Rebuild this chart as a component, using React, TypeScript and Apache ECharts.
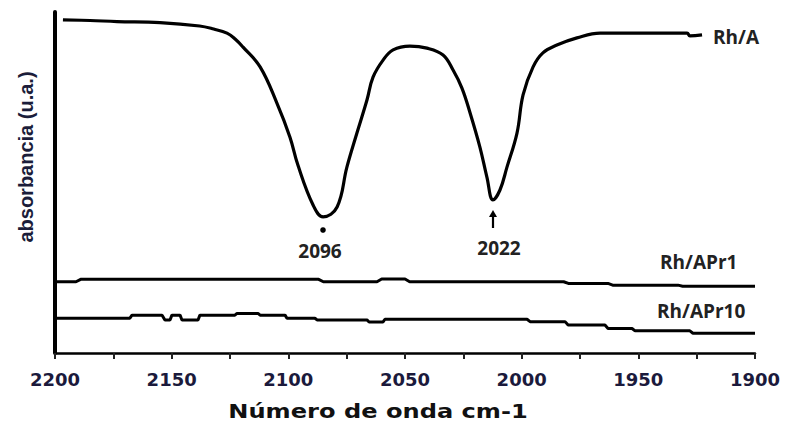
import React, { useEffect, useRef } from "react";
import * as echarts from "echarts";

// Wavenumber ticks (cm-1)
const xTicks = [2200, 2150, 2100, 2050, 2000, 1950, 1900];

// Rh/A spectrum
const rhA_x = [2196.6, 2185, 2173.4, 2155, 2138, 2132, 2126.3, 2122.7, 2119.4, 2112.1, 2104.9, 2099.3, 2095.9, 2089.4, 2085.1, 2079.1, 2074.9, 2070.6, 2066.3, 2063.7, 2059.4, 2055.1, 2047.9, 2040.6, 2033.7, 2029.4, 2025.6, 2022.1, 2017.9, 2014.9, 2012.3, 2009.3, 2006.3, 2002, 1999.4, 1995.1, 1990.9, 1984.9, 1976.3, 1966.4, 1945, 1929.1, 1927.9, 1922.7];
const rhA_y = [97.7, 97.5, 97.2, 96.9, 95.9, 95.0, 93.8, 92.0, 89.7, 83.9, 73.3, 63.3, 55.1, 43.4, 39.9, 42.8, 54.5, 64.5, 74.2, 80.9, 85.9, 88.9, 90.0, 89.4, 87.4, 83.0, 77.7, 70.4, 60.4, 51.6, 44.9, 47.8, 54.5, 64.5, 75.7, 83.9, 88.0, 90.3, 92.4, 93.8, 93.8, 93.8, 93.0, 93.3];

// Rh/APr1 spectrum
const rhAPr1_x = [2200, 2191, 2189, 2087, 2085, 2062, 2060, 2050, 2048, 1982, 1980, 1963, 1961, 1933, 1931, 1900];
const rhAPr1_y = [20.9, 20.9, 21.6, 21.6, 20.9, 20.9, 21.7, 21.7, 20.9, 20.9, 20.4, 20.4, 19.9, 19.9, 19.6, 19.6];

// Rh/APr10 spectrum
const rhAPr10_x = [2200, 2167.9, 2167, 2154.1, 2152.9, 2150.7, 2149.9, 2146.4, 2145.6, 2138.7, 2137.9, 2122.9, 2122, 2113, 2112.1, 2101.4, 2100.6, 2088.6, 2087.7, 2066.3, 2065.4, 2059.4, 2058.6, 1997.7, 1996.4, 1981.4, 1980.1, 1964.3, 1963, 1952.7, 1951.4, 1927.9, 1926.6, 1900];
const rhAPr10_y = [10.2, 10.2, 11.1, 11.1, 9.7, 9.7, 11.1, 11.1, 9.7, 9.7, 11.1, 11.1, 11.6, 11.6, 11.1, 11.1, 10.2, 10.2, 9.7, 9.7, 9.1, 9.1, 9.9, 9.9, 9.2, 9.2, 8.2, 8.2, 7.2, 7.2, 6.5, 6.5, 5.8, 5.8];

const seriesNames = ["Rh/A", "Rh/APr1", "Rh/APr10"];
const peakLabels = ["2096", "2022"];

const zip = (xs: number[], ys: number[]) => xs.map((x, i) => [x, ys[i]]);

export default function App() {
  const ref = useRef<HTMLDivElement>(null);
  useEffect(() => {
    if (!ref.current) return;
    const chart = echarts.init(ref.current, null, { renderer: "svg" });
    const font = "'Open Sans', 'Liberation Sans', sans-serif";
    chart.setOption({
      animation: false,
      backgroundColor: "#fff",
      grid: { left: 55, right: 32, top: 12, bottom: 68 },
      xAxis: {
        type: "value",
        min: 1900,
        max: 2200,
        interval: 50,
        inverse: true,
        axisLine: { show: true, onZero: false, lineStyle: { color: "#000", width: 2.5 } },
        axisTick: { show: true, inside: false, length: 6, lineStyle: { color: "#222", width: 2 } },
        minorTick: { show: true, splitNumber: 2, length: 6, lineStyle: { color: "#222", width: 2 } },
        splitLine: { show: false },
        axisLabel: {
          margin: 17,
          fontSize: 18,
          fontWeight: "bold",
          fontFamily: "'DejaVu Sans', sans-serif",
          color: "#1b1a3c",
          formatter: (v: number) => (xTicks.includes(v) ? String(v) : ""),
        },
      },
      yAxis: {
        type: "value",
        min: 0,
        max: 100,
        axisLine: { show: true, lineStyle: { color: "#000", width: 4 } },
        axisTick: { show: false },
        axisLabel: { show: false },
        splitLine: { show: false },
      },
      series: [
        {
          name: seriesNames[0],
          type: "line",
          data: zip(rhA_x, rhA_y),
          showSymbol: false,
          smooth: 0.4,
          lineStyle: { color: "#000", width: 3.2 },
        },
        {
          name: seriesNames[1],
          type: "line",
          data: zip(rhAPr1_x, rhAPr1_y),
          showSymbol: false,
          lineStyle: { color: "#000", width: 3 },
        },
        {
          name: seriesNames[2],
          type: "line",
          data: zip(rhAPr10_x, rhAPr10_y),
          showSymbol: false,
          lineStyle: { color: "#000", width: 3 },
        },
      ],
      graphic: [
        {
          type: "text",
          x: 713,
          y: 37,
          style: { text: seriesNames[0], font: `bold 19px ${font}`, fill: "#222", verticalAlign: "middle" },
        },
        {
          type: "text",
          x: 660,
          y: 262,
          style: { text: seriesNames[1], font: `bold 19px ${font}`, fill: "#222", verticalAlign: "middle" },
        },
        {
          type: "text",
          x: 657,
          y: 311,
          style: { text: seriesNames[2], font: `bold 19px ${font}`, fill: "#222", verticalAlign: "middle" },
        },
        {
          type: "text",
          x: 320,
          y: 251,
          style: { text: peakLabels[0], font: `bold 19px ${font}`, fill: "#222", align: "center", verticalAlign: "middle" },
        },
        {
          type: "text",
          x: 499,
          y: 248,
          style: { text: peakLabels[1], font: `bold 19px ${font}`, fill: "#222", align: "center", verticalAlign: "middle" },
        },
        { type: "circle", shape: { cx: 323, cy: 230, r: 2.8 }, style: { fill: "#000" } },
        { type: "line", shape: { x1: 493, y1: 228, x2: 493, y2: 214 }, style: { stroke: "#000", lineWidth: 2.2 } },
        { type: "polygon", shape: { points: [[489, 217], [497, 217], [493, 210]] }, style: { fill: "#000" } },
        {
          type: "text",
          x: 26,
          y: 157,
          rotation: Math.PI / 2,
          style: {
            text: "absorbancia (u.a.)",
            font: "bold 20px 'Liberation Sans', Arial, sans-serif",
            fill: "#1b1d3a",
            align: "center",
            verticalAlign: "middle",
          },
        },
        {
          type: "text",
          x: 378,
          y: 411,
          scaleX: 1.27,
          style: {
            text: "Número de onda cm-1",
            font: "bold 19px 'DejaVu Sans', sans-serif",
            fill: "#111",
            align: "center",
            verticalAlign: "middle",
          },
        },
      ],
    });
    return () => chart.dispose();
  }, []);
  return (
    <div
      ref={ref}
      style={{ position: "absolute", left: 0, top: 0, width: 787, height: 421 }}
    />
  );
}
